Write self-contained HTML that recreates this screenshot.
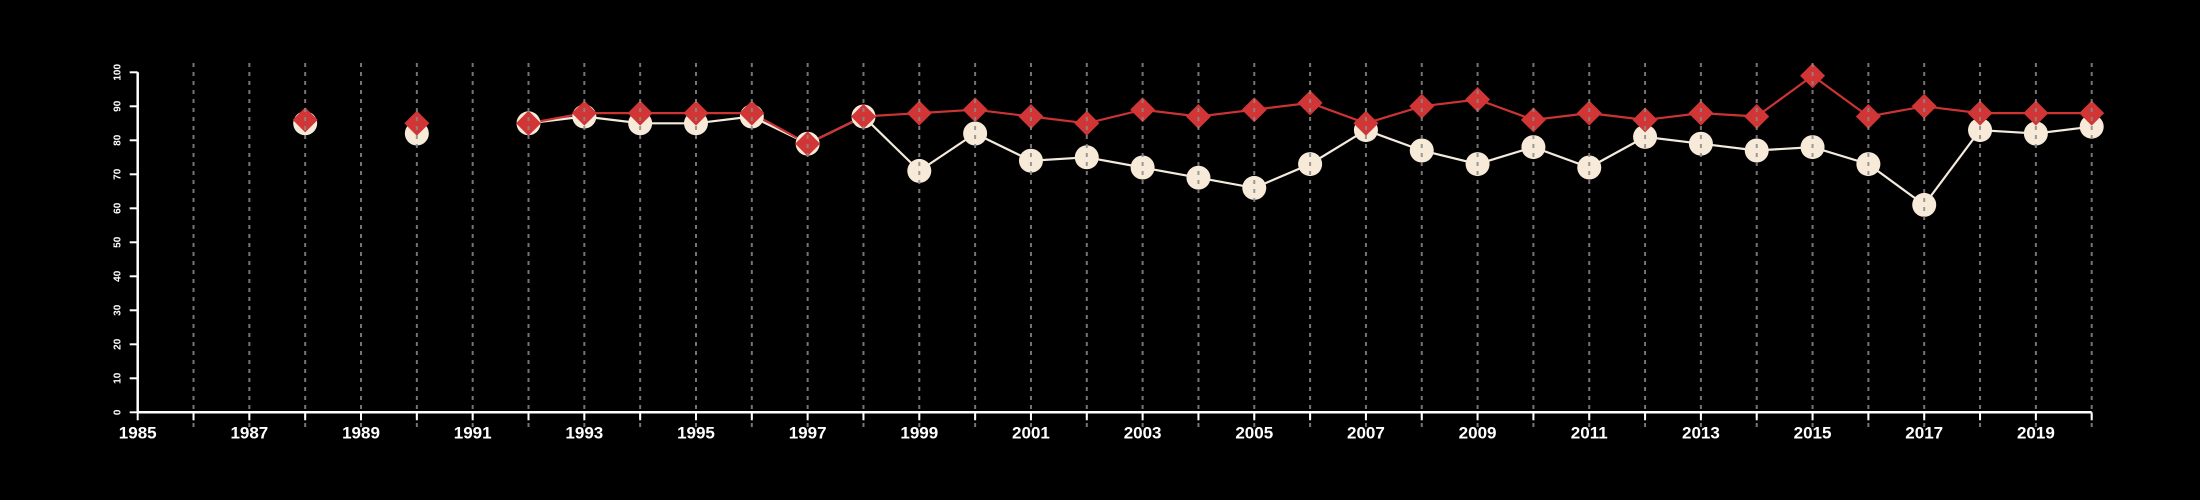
<!DOCTYPE html>
<html><head><meta charset="utf-8"><style>
html,body{margin:0;padding:0;background:#000;}
svg{display:block;font-family:"Liberation Sans",sans-serif;}
</style></head><body>
<svg id="chart" width="2200" height="500" viewBox="0 0 2200 500" xmlns="http://www.w3.org/2000/svg">
<rect width="2200" height="500" fill="#000"/>
<g id="lines"></g><g id="marks"></g><g id="grid"></g><g id="axes"></g>
</svg>
<script>
const years = [1988,1990,1992,1993,1994,1995,1996,1997,1998,1999,2000,2001,2002,2003,2004,2005,2006,2007,2008,2009,2010,2011,2012,2013,2014,2015,2016,2017,2018,2019,2020];
const seriesWhite = [85,82,85,87,85,85,87,79,87,71,82,74,75,72,69,66,73,83,77,73,78,72,81,79,77,78,73,61,83,82,84];
const seriesRed = [86,85,85,88,88,88,88,79,87,88,89,87,85,89,87,89,91,85,90,92,86,88,86,88,87,99,87,90,88,88,88];
const yTicks = [0,10,20,30,40,50,60,70,80,90,100];
const xTickLabels = [1985,1987,1989,1991,1993,1995,1997,1999,2001,2003,2005,2007,2009,2011,2013,2015,2017,2019];

const NS="http://www.w3.org/2000/svg";
const X0=137.7,X1=2091.7,Y0=412.3,Y1=72.3;
const xs=y=>X0+(y-1985)*(X1-X0)/35;
const ys=v=>Y0-v*(Y0-Y1)/100;
function el(t,a,p){const e=document.createElementNS(NS,t);for(const k in a)e.setAttribute(k,a[k]);document.getElementById(p).appendChild(e);return e;}

// connected segments (consecutive years only)
function drawLine(vals,color,name){
  let d="";
  for(let i=0;i<years.length;i++){
    const cont=i>0&&years[i]-years[i-1]===1;
    d+=(cont?"L":"M")+xs(years[i]).toFixed(1)+" "+ys(vals[i]).toFixed(1);
  }
  const p=el("path",{d:d,fill:"none",stroke:color,"stroke-width":2.2},"lines");
  
  
}
drawLine(seriesWhite,"#f5ebdc","white-series-line");
drawLine(seriesRed,"#cc3333","red-series-line");

years.forEach((yr,i)=>{
  const c=el("circle",{cx:xs(yr),cy:ys(seriesWhite[i]),r:12,fill:"#f7ead8"},"marks");
  
  
});
years.forEach((yr,i)=>{
  const x=xs(yr),y=ys(seriesRed[i]),r=12.5;
  const p=el("polygon",{points:`${x},${y-r} ${x+r},${y} ${x},${y+r} ${x-r},${y}`,fill:"#d13535"},"marks");
  
  
});

// gridlines
for(let yr=1986;yr<=2020;yr++){
  const g=el("line",{x1:xs(yr),x2:xs(yr),y1:63,y2:430,stroke:"#8a8a8a","stroke-width":2,"stroke-dasharray":"4 5",opacity:0.85},"grid");
  
  
}

// axes
let a=el("line",{x1:X0,x2:X1,y1:Y0,y2:Y0,stroke:"#fff","stroke-width":2.5},"axes");


a=el("line",{x1:X0,x2:X0,y1:Y0,y2:Y1,stroke:"#fff","stroke-width":2.5},"axes");


for(let yr=1985;yr<=2020;yr++){
  const t=el("line",{x1:xs(yr),x2:xs(yr),y1:Y0,y2:Y0+8,stroke:"#fff","stroke-width":2},"axes");
  
  
}
xTickLabels.forEach(yr=>{
  const t=el("text",{x:xs(yr),y:Y0+26,fill:"#fff","font-size":17,"font-weight":"bold","text-anchor":"middle"},"axes");
  t.textContent=yr;
  
  
});
yTicks.forEach(v=>{
  const t=el("line",{x1:X0-8,x2:X0,y1:ys(v),y2:ys(v),stroke:"#fff","stroke-width":2},"axes");
  
  
  const l=el("text",{x:0,y:0,fill:"#fff","font-size":10,"font-weight":"bold","text-anchor":"middle",transform:`translate(${X0-17},${ys(v)}) rotate(-90)`},"axes");
  l.textContent=v;
  
  
});
</script>
</body></html>
